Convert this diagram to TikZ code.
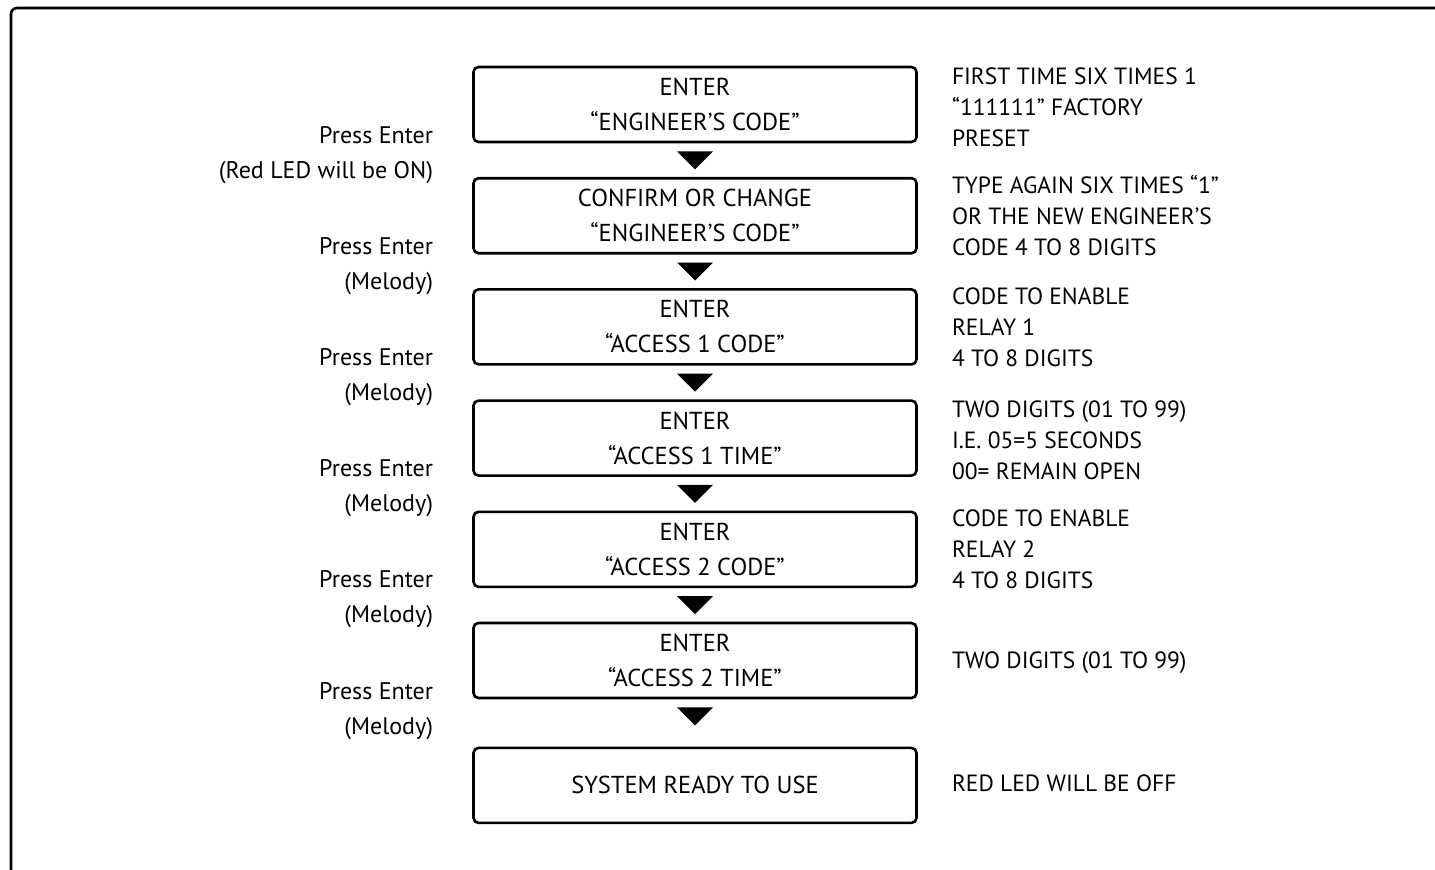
\documentclass[tikz,border=0pt]{standalone}
\usepackage{fontspec}
\setmainfont{PT Sans}
\usetikzlibrary{positioning, calc}

\tikzset{
  stepbox/.style={draw, line width=2.6pt, rounded corners=5pt, minimum width=443pt, minimum height=75pt, align=center, font=\fontsize{24.5}{35}\selectfont},
  presslabel/.style={inner sep=0pt, align=right, font=\fontsize{24}{35}\selectfont},
  notelabel/.style={inner sep=0pt, align=left, font=\fontsize{23.5}{31}\selectfont},
}

\begin{document}
\begin{tikzpicture}[x=1pt, y=-1pt]
    \useasboundingbox (0,0) rectangle (1435,870);
    % outer frame, open to the right and bottom
    \draw[line width=2.6pt, rounded corners=6pt] (11,900) -- (11,8) -- (1460,8);

    \node [stepbox] (engcode) at (695,104.5) {ENTER\\“ENGINEER’S CODE”};
    \node [stepbox, below=33.6pt of engcode] (confirm) {CONFIRM OR CHANGE\\“ENGINEER’S CODE”};
    \node [stepbox, below=33.6pt of confirm] (acccode1) {ENTER\\“ACCESS 1 CODE”};
    \node [stepbox, below=33.6pt of acccode1] (acctime1) {ENTER\\“ACCESS 1 TIME”};
    \node [stepbox, below=33.6pt of acctime1] (acccode2) {ENTER\\“ACCESS 2 CODE”};
    \node [stepbox, below=33.6pt of acccode2] (acctime2) {ENTER\\“ACCESS 2 TIME”};
    \node [stepbox, below=47.3pt of acctime2] (ready) {SYSTEM READY TO USE};

    % arrowheads between the steps
    \foreach \s in {engcode, confirm, acccode1, acctime1, acccode2, acctime2}
      \fill ($(\s.south)+(-18,8)$) -- ++(36,0) -- ++(-18,18) -- cycle;

    \node [presslabel, anchor=east, left=39pt of engcode.south west, yshift=-11.5pt] (press1) {Press Enter\\(Red LED will be ON)};
    \node [presslabel, anchor=east, left=39pt of confirm.south west, yshift=-11.5pt] (press2) {Press Enter\\(Melody)};
    \node [presslabel, anchor=east, left=39pt of acccode1.south west, yshift=-11.5pt] (press3) {Press Enter\\(Melody)};
    \node [presslabel, anchor=east, left=39pt of acctime1.south west, yshift=-11.5pt] (press4) {Press Enter\\(Melody)};
    \node [presslabel, anchor=east, left=39pt of acccode2.south west, yshift=-11.5pt] (press5) {Press Enter\\(Melody)};
    \node [presslabel, anchor=east, left=39pt of acctime2.south west, yshift=-11.5pt] (press6) {Press Enter\\(Melody)};

    \node [notelabel, right=34pt of engcode, yshift=-3pt] (note1) {FIRST TIME SIX TIMES 1\\“111111” FACTORY\\PRESET};
    \node [notelabel, right=34pt of confirm] (note2) {TYPE AGAIN SIX TIMES “1”\\OR THE NEW ENGINEER’S\\CODE 4 TO 8 DIGITS};
    \node [notelabel, right=34pt of acccode1] (note3) {CODE TO ENABLE\\RELAY 1\\4 TO 8 DIGITS};
    \node [notelabel, right=34pt of acctime1, yshift=-2pt] (note4) {TWO DIGITS (01 TO 99)\\I.E. 05=5 SECONDS\\00= REMAIN OPEN};
    \node [notelabel, right=34pt of acccode2] (note5) {CODE TO ENABLE\\RELAY 2\\4 TO 8 DIGITS};
    \node [notelabel, right=34pt of acctime2, yshift=-2pt] (note6) {TWO DIGITS (01 TO 99)};
    \node [notelabel, right=34pt of ready, yshift=2pt] (note7) {RED LED WILL BE OFF};
  \end{tikzpicture}
\end{document}
